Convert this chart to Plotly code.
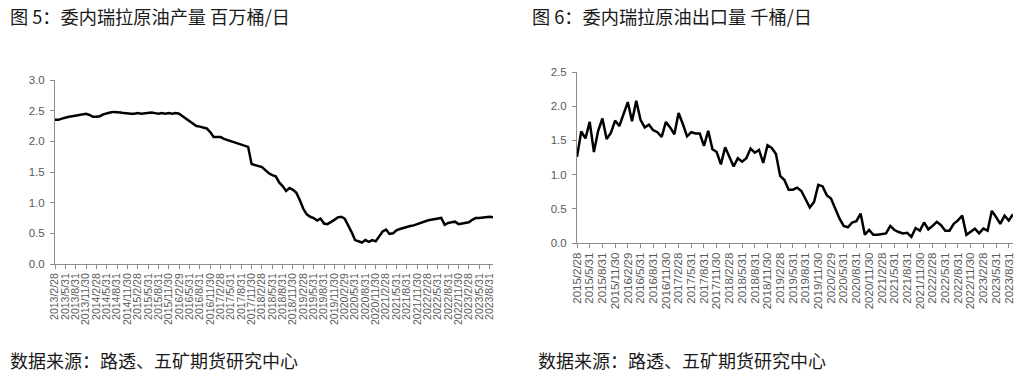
import plotly.graph_objects as go
import pandas as pd

W, H = 1025, 377

# 委内瑞拉原油产量 百万桶/日, monthly 2013/2 - 2023/9
prod_start = "2013-02-28"
prod_values = [
    2.35, 2.35, 2.37, 2.39, 2.40, 2.41, 2.42, 2.43, 2.44, 2.45,
    2.43, 2.40, 2.40, 2.41, 2.44, 2.46, 2.47, 2.48, 2.48, 2.47,
    2.46, 2.45, 2.45, 2.45, 2.46, 2.45, 2.46, 2.47, 2.47, 2.46,
    2.45, 2.46, 2.45, 2.46, 2.45, 2.46, 2.45, 2.41, 2.37, 2.33,
    2.28, 2.25, 2.24, 2.23, 2.21, 2.15, 2.07, 2.07, 2.07, 2.04,
    2.02, 2.01, 1.99, 1.97, 1.95, 1.93, 1.91, 1.63, 1.61, 1.59,
    1.58, 1.53, 1.48, 1.45, 1.43, 1.33, 1.27, 1.19, 1.24, 1.21,
    1.16, 1.04, 0.90, 0.81, 0.77, 0.75, 0.71, 0.74, 0.66, 0.65,
    0.68, 0.72, 0.76, 0.77, 0.74, 0.64, 0.52, 0.39, 0.37, 0.35,
    0.39, 0.36, 0.39, 0.37, 0.45, 0.53, 0.56, 0.49, 0.50, 0.55,
    0.57, 0.59, 0.60, 0.62, 0.63, 0.65, 0.67, 0.70, 0.71, 0.72,
    0.73, 0.75, 0.75, 0.64, 0.67, 0.68, 0.69, 0.65, 0.66, 0.68,
    0.68, 0.72, 0.75, 0.75, 0.76, 0.76, 0.77, 0.76,
]

# 委内瑞拉原油出口量, monthly 2015/2 - 2023/9
exp_start = "2015-02-28"
exp_values = [
    1.26, 1.63, 1.53, 1.77, 1.33, 1.64, 1.82, 1.52, 1.61, 1.79,
    1.71, 1.90, 2.06, 1.78, 2.08, 1.80, 1.69, 1.73, 1.65, 1.62,
    1.55, 1.77, 1.69, 1.59, 1.90, 1.74, 1.56, 1.62, 1.60, 1.60,
    1.42, 1.64, 1.37, 1.33, 1.15, 1.40, 1.27, 1.12, 1.24, 1.19,
    1.24, 1.38, 1.32, 1.36, 1.17, 1.43, 1.39, 1.30, 0.98, 0.92,
    0.78, 0.78, 0.81, 0.76, 0.64, 0.52, 0.60, 0.85, 0.83, 0.70,
    0.65, 0.49, 0.36, 0.25, 0.23, 0.30, 0.32, 0.43, 0.12, 0.19,
    0.12, 0.12, 0.13, 0.14, 0.25, 0.19, 0.16, 0.14, 0.15, 0.09,
    0.22, 0.18, 0.30, 0.20, 0.25, 0.31, 0.26, 0.18, 0.18, 0.28,
    0.33, 0.40, 0.12, 0.16, 0.21, 0.14, 0.21, 0.18, 0.47, 0.38,
    0.28, 0.40, 0.33, 0.42,
]

title_left = "图 5：委内瑞拉原油产量 百万桶/日"
title_right = "图 6：委内瑞拉原油出口量 千桶/日"
source_text = "数据来源：路透、五矿期货研究中心"


def month_labels(start, n):
    d = pd.date_range(start, periods=n, freq="ME")
    return [f"{x.year}/{x.month}/{x.day}" for x in d]


prod_dates = month_labels(prod_start, len(prod_values))
exp_dates = month_labels(exp_start, len(exp_values))

prod_idx = list(range(len(prod_values)))
exp_idx = list(range(len(exp_values)))

gray = "#595959"
axis_gray = "#8c8c8c"
tick_font = dict(family="Liberation Sans, Arial, sans-serif", size=10.5, color=gray)

fig = go.Figure()
fig.add_trace(go.Scatter(x=prod_idx, y=prod_values, mode="lines",
                         line=dict(color="black", width=2.5),
                         xaxis="x", yaxis="y", showlegend=False,
                         text=prod_dates, hovertemplate="%{text}: %{y}<extra></extra>"))
fig.add_trace(go.Scatter(x=exp_idx, y=exp_values, mode="lines",
                         line=dict(color="black", width=2.5),
                         xaxis="x2", yaxis="y2", showlegend=False,
                         text=exp_dates, hovertemplate="%{text}: %{y}<extra></extra>"))


def px_x(p):
    return p / W


def px_y(p):
    return 1 - p / H


common_x = dict(showgrid=False, zeroline=False, showline=True, linecolor=axis_gray,
                linewidth=1, ticks="outside", ticklen=4, tickcolor=axis_gray,
                tickangle=-90, tickfont=tick_font, tickmode="array", automargin=False)
common_y = dict(showgrid=False, zeroline=False, showline=True, linecolor=axis_gray,
                linewidth=1, ticks="outside", ticklen=4, tickcolor=axis_gray,
                tickfont=dict(family="Liberation Sans, Arial, sans-serif", size=11.5, color=gray),
                tickformat=".1f", dtick=0.5, automargin=False, ticklabelstandoff=3)

fig.update_layout(
    width=W, height=H, autosize=False,
    margin=dict(l=0, r=0, t=0, b=0, pad=0, autoexpand=False),
    paper_bgcolor="white", plot_bgcolor="white",
    xaxis=dict(common_x, domain=[px_x(55), px_x(493)], range=[0, len(prod_values) - 1],
               tickvals=prod_idx[::3], ticktext=prod_dates[::3], anchor="y"),
    yaxis=dict(common_y, domain=[px_y(264), px_y(80)], range=[0, 3], anchor="x"),
    xaxis2=dict(common_x, domain=[px_x(577), px_x(1013)], range=[0, len(exp_values) - 1],
                tickvals=exp_idx[::3], ticktext=exp_dates[::3], anchor="y2",
                tickfont=dict(tick_font, size=11.5)),
    yaxis2=dict(common_y, domain=[px_y(243), px_y(72)], range=[0, 2.5], anchor="x2"),
)

cjk = "Noto Sans CJK SC, sans-serif"
for txt, x, y, size in [
    (title_left, 8, 16, 18.2),
    (title_right, 530, 16, 18.2),
    (source_text, 8, 360, 18),
    (source_text, 536, 360, 18),
]:
    fig.add_annotation(text=txt, xref="paper", yref="paper", x=px_x(x), y=px_y(y),
                       xanchor="left", yanchor="middle", showarrow=False,
                       font=dict(family=cjk, size=size, color="#1a1a1a"))

# remove the browser's default 8px body margin so the figure fills the window
fig.write_html("out.html", config={"displayModeBar": False},
               post_script="document.body.style.margin='0';document.body.style.overflow='hidden';")
